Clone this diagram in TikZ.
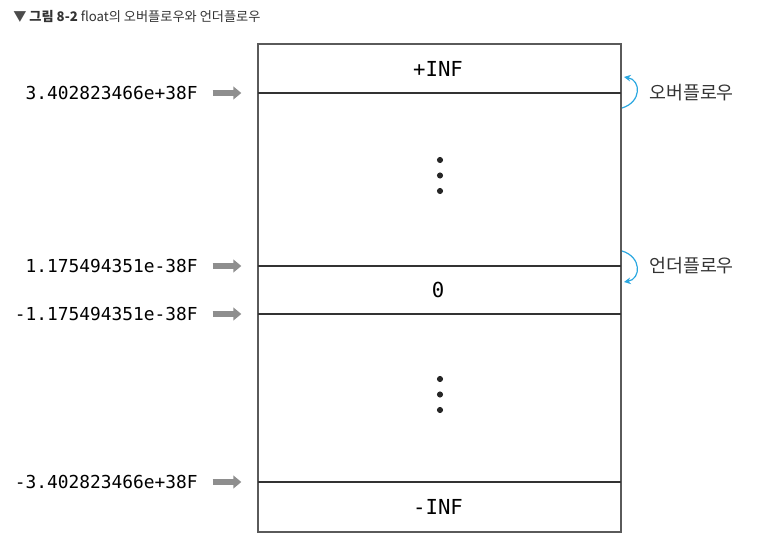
\documentclass[tikz,border=0pt]{standalone}
\usepackage{fontspec}
\setmainfont{Noto Sans CJK KR}
\newfontfamily\codefont{DejaVu Sans Mono}
\usetikzlibrary{arrows.meta,positioning}
\definecolor{frame}{HTML}{5A5A5A}
\definecolor{pointer}{HTML}{8E8E8E}
\definecolor{flow}{HTML}{2AA7E0}
\definecolor{caption}{HTML}{333333}
\tikzset{
  Bound/.style={anchor=east, inner sep=0pt,
    font=\codefont\fontsize{13.4}{15}\selectfont},
  Cell/.style={inner sep=0pt, font=\codefont\fontsize{15.5}{17}\selectfont},
  Pointer/.style={draw=pointer, line width=4.5pt,
    shorten <=11pt, shorten >=12.5pt,
    -{Triangle[length=6pt,width=9.5pt]}},
  Flow/.style={draw=flow, line width=0.9pt, -{Stealth[length=5pt,width=5pt]}},
  FlowLabel/.style={anchor=west, inner sep=0pt, text=black!80,
    font=\fontsize{13.8}{15}\selectfont},
  Dot/.style={fill=black!85}
}

\begin{document}
\begin{tikzpicture}[x=0.75pt, y=-0.75pt, line cap=butt]
  \useasboundingbox (0,0) rectangle (757,548);

  \node[anchor=west, inner sep=0pt, text=caption,
    font=\fontsize{9.9}{12}\selectfont] (title) at (13,17)
    {\textcolor{black!70}{▼} \textbf{그림 8-2} float의 오버플로우와 언더플로우};

  \coordinate (TL) at (258,44);
  \coordinate (BR) at (621,532);
  \coordinate (L1) at (258,93);  \coordinate (R1) at (621,93);
  \coordinate (L2) at (258,266); \coordinate (R2) at (621,266);
  \coordinate (L3) at (258,314); \coordinate (R3) at (621,314);
  \coordinate (L4) at (258,482); \coordinate (R4) at (621,482);

  \draw[frame, line width=1pt] (TL) rectangle (BR);
  \draw[black!80, line width=0.8pt] (L1) -- (R1);
  \draw[black!80, line width=0.8pt] (L2) -- (R2);
  \draw[black!80, line width=0.8pt] (L3) -- (R3);
  \draw[black!80, line width=0.8pt] (L4) -- (R4);

  % values in the cells
  \node[Cell] (posinf) at (438,69) {+INF};
  \node[Cell] (zero) at (438,290) {0};
  \node[Cell] (neginf) at (438,507) {-INF};

  \fill[Dot] (440,160) circle (2.3pt);
  \fill[Dot] (440,175.5) circle (2.3pt);
  \fill[Dot] (440,191) circle (2.3pt);
  \fill[Dot] (440,379) circle (2.3pt);
  \fill[Dot] (440,394.5) circle (2.3pt);
  \fill[Dot] (440,410) circle (2.3pt);

  % boundary values on the left
  \node[Bound] (maxpos) at (198,93) {3.402823466e+38F};
  \node[Bound] (minpos) at (198,266) {1.175494351e-38F};
  \node[Bound] (minneg) at (198,314) {-1.175494351e-38F};
  \node[Bound] (maxneg) at (198,482) {-3.402823466e+38F};

  \draw[Pointer] (maxpos.east) -- (L1);
  \draw[Pointer] (minpos.east) -- (L2);
  \draw[Pointer] (minneg.east) -- (L3);
  \draw[Pointer] (maxneg.east) -- (L4);

  % overflow / underflow
  \coordinate (ovS) at (622,108);
  \coordinate (ovE) at (624,77);
  \coordinate (unS) at (622,251);
  \coordinate (unE) at (624,282);
  \draw[Flow] (ovS) .. controls (642,102) and (641,80) .. (ovE);
  \draw[Flow] (unS) .. controls (642,257) and (641,279) .. (unE);

  \node[FlowLabel] (over) at (649,93) {오버플로우};
  \node[FlowLabel] (under) at (649,266) {언더플로우};
\end{tikzpicture}
\end{document}
